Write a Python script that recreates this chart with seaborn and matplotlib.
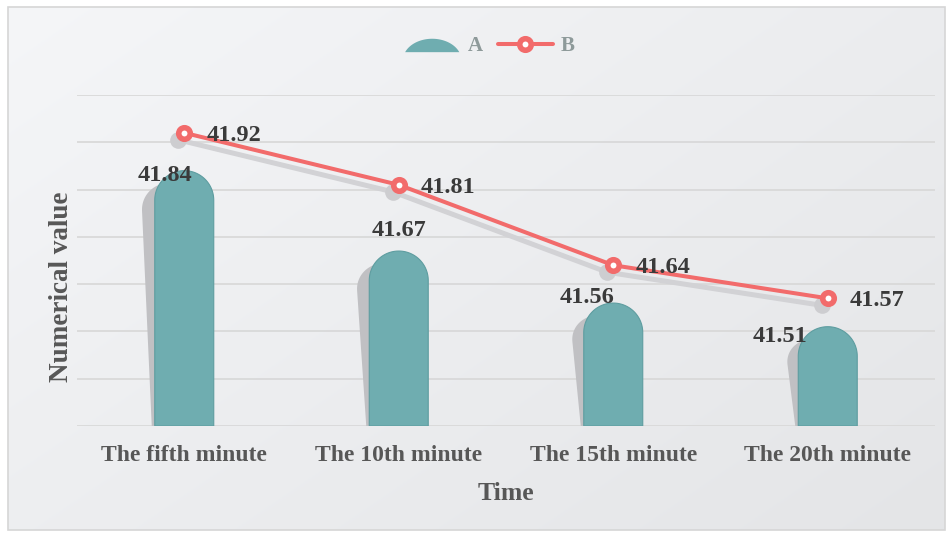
import numpy as np
import pandas as pd
import matplotlib
matplotlib.use("Agg")
import matplotlib.pyplot as plt
import matplotlib.transforms as mtransforms
import seaborn as sns
from matplotlib.patches import Polygon, Rectangle, Patch
from matplotlib.lines import Line2D
from matplotlib.legend_handler import HandlerPatch

# ---- data ----
categories = ["The fifth minute", "The 10th minute", "The 15th minute", "The 20th minute"]
values_a = [41.84, 41.67, 41.56, 41.51]
values_b = [41.92, 41.81, 41.64, 41.57]
series_names = ["A", "B"]
y_min, y_max, y_step = 41.3, 42.0, 0.1

# ---- style ----
TEAL = "#6FADB0"
TEAL_EDGE = "#5E9DA0"
RED = "#F26B6B"
SHADOW = "#C0C0C3"
LABEL_DARK = "#3A3A3A"
AXIS_TEXT = "#575757"
LEGEND_TEXT = "#8E9A9A"

# label offsets in pixels (dx, dy up) for the bar values and line values
bar_label_offsets = [(-19, -10), (0, 15), (-26, 0), (-48, -15)]
line_label_offset = (22, -8)

sns.set_theme(style="white")
plt.rcParams["font.family"] = ["Liberation Serif", "DejaVu Serif"]
plt.rcParams["font.weight"] = "bold"
plt.rcParams["axes.labelweight"] = "bold"

W, H = 953, 535
fig = plt.figure(figsize=(W / 100, H / 100), dpi=100)
fig.patch.set_facecolor("white")

# background panel with a soft diagonal gradient and thin border
bg = fig.add_axes([8 / W, 1 - 530 / H, (945 - 8) / W, (530 - 7) / H], zorder=-10)
gx = np.linspace(0, 1, 256)
GX, GY = np.meshgrid(gx, gx)
t = GX * 0.55 + GY * 0.45
c0 = np.array([0.960, 0.964, 0.972])
c1 = np.array([0.894, 0.898, 0.906])
img = c0 + (c1 - c0) * t[..., None]
bg.imshow(img, aspect="auto", extent=[0, 1, 0, 1], origin="upper")
bg.set_xlim(0, 1)
bg.set_ylim(0, 1)
bg.axis("off")
bg.add_patch(Rectangle((0, 0), 1, 1, transform=bg.transAxes, fill=False,
                       ec="#D6D6D6", lw=1.2, clip_on=False))

# main plotting axes
ax = fig.add_axes([77 / W, 1 - 426 / H, 858 / W, 331 / H])
ax.patch.set_alpha(0)

df = pd.DataFrame({"Time": categories, "A": values_a})
sns.barplot(data=df, x="Time", y="A", color=TEAL, width=0.275, saturation=1,
            errorbar=None, ax=ax)
ax.set_xlim(-0.5, len(categories) - 0.5)
ax.set_ylim(y_min, y_max)

# pixel scale of the data axes
p0 = ax.transData.transform((0, y_min))
p1 = ax.transData.transform((1, y_min + 1))
ppx, ppy = p1[0] - p0[0], p1[1] - p0[1]

# turn every bar into a rounded-top column with a slanted shadow
rects = list(ax.patches)
for r in rects:
    x0, w = r.get_x(), r.get_width()
    top = r.get_y() + r.get_height()
    r.remove()
    rx = w / 2
    ry = rx * ppx / ppy
    cx = x0 + rx
    theta = np.linspace(np.pi, 0, 60)
    verts = [(x0, y_min), (x0, top - ry)]
    verts += [(cx + rx * np.cos(a), top - ry + ry * np.sin(a)) for a in theta]
    verts += [(x0 + w, top - ry), (x0 + w, y_min)]
    verts = np.array(verts)

    f = (verts[:, 1] - y_min) / (top - y_min)
    shadow = verts.copy()
    shadow[:, 0] = verts[:, 0] - (3 + 11 * f) / ppx
    shadow[:, 1] = verts[:, 1] - (12 * f) / ppy
    ax.add_patch(Polygon(shadow, closed=True, fc=SHADOW, ec="none", zorder=2))
    ax.add_patch(Polygon(verts, closed=True, fc=TEAL, ec=TEAL_EDGE, lw=0.8, zorder=3))

xpos = np.arange(len(categories))

# soft drop shadow for the line series
shadow_tr = mtransforms.offset_copy(ax.transData, fig=fig, x=-6, y=-7, units="dots")
ax.plot(xpos, values_b, color="#D2D2D5", lw=3.6, marker="o", ms=12, mfc="#CDCDD0",
        mec="none", transform=shadow_tr, zorder=4, solid_capstyle="round")

sns.lineplot(x=xpos, y=values_b, color=RED, lw=2.9, marker="o", ms=8.3, mfc="white",
             mec=RED, mew=4, ax=ax, zorder=5)

# value labels
for i, v in enumerate(values_a):
    dx, dy = bar_label_offsets[i]
    ax.annotate(f"{v:.2f}", xy=(i, v), xytext=(dx * 0.72, dy * 0.72),
                textcoords="offset points", ha="center", va="baseline",
                fontsize=17.5, fontweight="bold", color=LABEL_DARK, zorder=7)
for i, v in enumerate(values_b):
    dx, dy = line_label_offset
    ax.annotate(f"{v:.2f}", xy=(i, v), xytext=(dx * 0.72, dy * 0.72),
                textcoords="offset points", ha="left", va="baseline",
                fontsize=17.5, fontweight="bold", color=LABEL_DARK, zorder=7)

# axes styling
ax.set_yticks(np.arange(y_min, y_max + y_step / 2, y_step))
ax.yaxis.grid(True, color="#D9D9D9", lw=1.3)
ax.xaxis.grid(False)
ax.set_axisbelow(True)
ax.tick_params(axis="y", labelleft=False, length=0)
ax.set_xticks(xpos)
ax.set_xticklabels(categories, fontsize=17, fontweight="bold", color=AXIS_TEXT)
ax.tick_params(axis="x", length=0, pad=14)
for s in ax.spines.values():
    s.set_visible(False)

ax.set_xlabel("Time", fontsize=18.5, fontweight="bold", color=AXIS_TEXT, labelpad=11.5)
ax.set_ylabel("Numerical value", fontsize=19.5, fontweight="bold", color=AXIS_TEXT)
ax.yaxis.set_label_coords(-0.0035, 0.421)


# legend: dome swatch for A, marker line for B
def dome_patch(legend, orig_handle, xdescent, ydescent, width, height, fontsize):
    t0 = np.deg2rad(22)
    tt = np.linspace(t0, np.pi - t0, 50)
    a = width / 2 / np.cos(t0)
    b = height * 0.92 / (1 - np.sin(t0))
    cx = -xdescent + width / 2
    base = -ydescent - height * 0.08
    pts = [(cx + a * np.cos(k), base + b * (np.sin(k) - np.sin(t0))) for k in tt]
    return Polygon(pts, closed=True)


handles = [
    Patch(facecolor=TEAL, edgecolor="none"),
    Line2D([], [], color=RED, lw=2.9, marker="o", ms=8.3, mfc="white", mec=RED, mew=4),
]
leg = ax.legend(handles, series_names, loc="center", ncol=2, frameon=False,
                bbox_to_anchor=(490 / W, 1 - 46 / H), bbox_transform=fig.transFigure,
                fontsize=15, handlelength=2.6, handletextpad=0.4, columnspacing=0.75,
                handler_map={Patch: HandlerPatch(patch_func=dome_patch)})
for txt in leg.get_texts():
    txt.set_color(LEGEND_TEXT)
    txt.set_fontweight("bold")

fig.savefig("out.png", dpi=100)
